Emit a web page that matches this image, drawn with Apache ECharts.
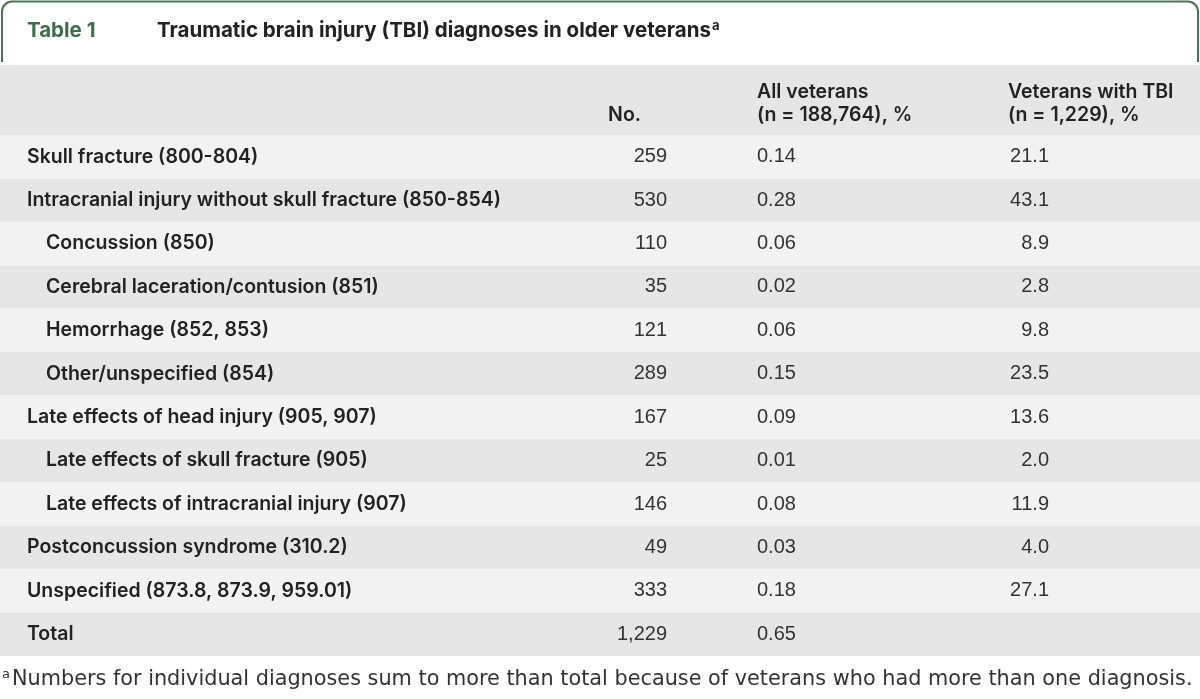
<!DOCTYPE html>
<html>
<head>
<meta charset="utf-8">
<script src="https://cdn.jsdelivr.net/npm/echarts@6/dist/echarts.min.js"></script>
<style>
html,body{margin:0;padding:0;background:#fff;}
#chart{width:1200px;height:699px;}
</style>
</head>
<body>
<div id="chart"></div>
<script>
// ---- Data ----
const tableNo = 'Table 1';
const titleText = 'Traumatic brain injury (TBI) diagnoses in older veterans';
const headerNo = 'No.';
const headerAll = ['All veterans', '(n = 188,764), %'];
const headerTBI = ['Veterans with TBI', '(n = 1,229), %'];
const categories = [
  'Skull fracture (800-804)',
  'Intracranial injury without skull fracture (850-854)',
  'Concussion (850)',
  'Cerebral laceration/contusion (851)',
  'Hemorrhage (852, 853)',
  'Other/unspecified (854)',
  'Late effects of head injury (905, 907)',
  'Late effects of skull fracture (905)',
  'Late effects of intracranial injury (907)',
  'Postconcussion syndrome (310.2)',
  'Unspecified (873.8, 873.9, 959.01)',
  'Total'
];
const indentLevel = [0, 0, 1, 1, 1, 1, 0, 1, 1, 0, 0, 0];
const counts = [259, 530, 110, 35, 121, 289, 167, 25, 146, 49, 333, 1229];
const pctAll = [0.14, 0.28, 0.06, 0.02, 0.06, 0.15, 0.09, 0.01, 0.08, 0.03, 0.18, 0.65];
const pctTBI = [21.1, 43.1, 8.9, 2.8, 9.8, 23.5, 13.6, 2.0, 11.9, 4.0, 27.1, null];
const footnote = 'Numbers for individual diagnoses sum to more than total because of veterans who had more than one diagnosis.';

// ---- Style ----
const labelFont = 'Inter';
const numFont = '"Liberation Sans", Arial, sans-serif';
const noteFont = '"DejaVu Sans", sans-serif';
const green = '#4a7656';
const greenText = '#3f6d4c';
const dark = '#222222';
const numColor = '#333333';
const lightRow = '#f2f2f2';
const darkRow = '#e6e6e6';
const labelSize = 19.5;
const labelWeight = 600;

const col = { label: 27, indent: 19, noRight: 667, allLeft: 757, tbiRight: 1049 };

function fmtCount(v) { return v.toLocaleString('en-US'); }

const chart = echarts.init(document.getElementById('chart'), null, { renderer: 'canvas' });

const rowData = categories.map((c, i) => [0, i]);

function headerText(x, y, text, align) {
  return {
    type: 'text', x: x, y: y,
    style: { text: text, fontFamily: labelFont, fontWeight: labelWeight, fontSize: labelSize, fill: dark, align: align || 'left', verticalAlign: 'middle' }
  };
}

chart.setOption({
  animation: false,
  backgroundColor: '#ffffff',
  grid: { left: 0, right: 0, top: 135, bottom: 43 },
  xAxis: { type: 'value', min: 0, max: 1200, show: false },
  yAxis: { type: 'category', data: categories, inverse: true, show: false },
  graphic: [
    {
      type: 'rect',
      shape: { x: 2, y: 1.5, width: 1196, height: 80, r: [10, 10, 0, 0] },
      style: { fill: null, stroke: green, lineWidth: 2 }
    },
    { type: 'rect', shape: { x: -2, y: 62, width: 1204, height: 3 }, style: { fill: '#ffffff' } },
    { type: 'rect', shape: { x: -2, y: 65, width: 1204, height: 70 }, style: { fill: darkRow } },
    {
      type: 'text', x: 27, y: 31,
      style: { text: tableNo, fontFamily: labelFont, fontWeight: 700, fontSize: 20.5, fill: greenText, verticalAlign: 'middle' }
    },
    {
      type: 'text', x: 157, y: 31,
      style: {
        text: '{t|' + titleText + '}{s|a}',
        verticalAlign: 'middle',
        rich: {
          t: { fontFamily: labelFont, fontWeight: 700, fontSize: 20.5, fill: dark },
          s: { fontFamily: labelFont, fontWeight: 700, fontSize: 13, fill: dark, padding: [0, 0, 10, 1] }
        }
      }
    },
    headerText(641, 115, headerNo, 'right'),
    headerText(757, 92, headerAll[0]),
    headerText(757, 115, headerAll[1]),
    headerText(1008, 92, headerTBI[0]),
    headerText(1008, 115, headerTBI[1]),
    {
      type: 'text', x: 2, y: 680,
      style: {
        text: '{s|a}{t|' + footnote + '}',
        verticalAlign: 'middle',
        rich: {
          s: { fontFamily: noteFont, fontSize: 13, fill: numColor, padding: [0, 2, 10, 0] },
          t: { fontFamily: noteFont, fontSize: 20.8, fill: numColor }
        }
      }
    }
  ],
  series: [{
    type: 'custom',
    coordinateSystem: 'cartesian2d',
    encode: { x: 0, y: 1 },
    data: rowData,
    renderItem: function (params, api) {
      const i = api.value(1);
      const c0 = api.coord([0, i]);
      const c1 = api.coord([1200, i]);
      const h = api.size([0, 1])[1];
      const yc = c0[1];
      const xAt = v => api.coord([v, i])[0];
      const children = [
        { type: 'rect', shape: { x: c0[0], y: yc - h / 2, width: c1[0] - c0[0], height: h }, style: { fill: i % 2 === 0 ? lightRow : darkRow } },
        { type: 'text', style: { text: categories[i], x: xAt(col.label + indentLevel[i] * col.indent), y: yc, fontFamily: labelFont, fontWeight: labelWeight, fontSize: labelSize, fill: dark, verticalAlign: 'middle', align: 'left' } },
        { type: 'text', style: { text: fmtCount(counts[i]), x: xAt(col.noRight), y: yc, fontFamily: numFont, fontSize: 20, fill: numColor, verticalAlign: 'middle', align: 'right' } },
        { type: 'text', style: { text: pctAll[i].toFixed(2), x: xAt(col.allLeft), y: yc, fontFamily: numFont, fontSize: 20, fill: numColor, verticalAlign: 'middle', align: 'left' } }
      ];
      if (pctTBI[i] !== null) {
        children.push({ type: 'text', style: { text: pctTBI[i].toFixed(1), x: xAt(col.tbiRight), y: yc, fontFamily: numFont, fontSize: 20, fill: numColor, verticalAlign: 'middle', align: 'right' } });
      }
      return { type: 'group', children: children };
    }
  }]
});
</script>
</body>
</html>
